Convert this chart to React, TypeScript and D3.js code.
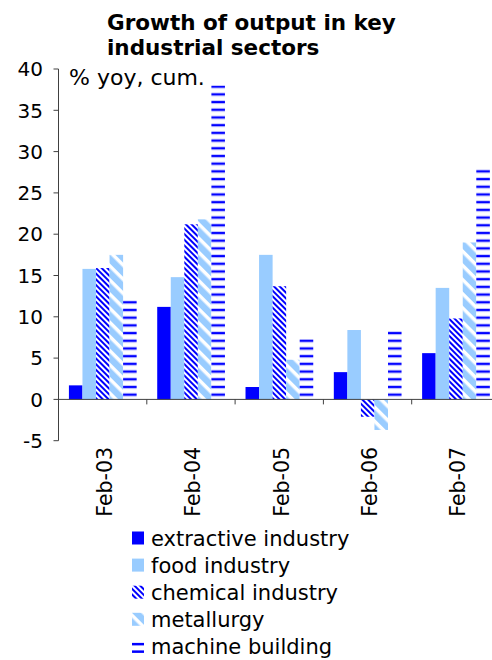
import React from "react";
import * as d3 from "d3";

const categories = ["Feb-03", "Feb-04", "Feb-05", "Feb-06", "Feb-07"];
const seriesNames = ["extractive industry", "food industry", "chemical industry", "metallurgy", "machine building"];
const extractive = [1.7, 11.2, 1.5, 3.3, 5.6];
const food = [15.8, 14.8, 17.5, 8.4, 13.5];
const chemical = [15.9, 21.2, 13.7, -2.1, 9.8];
const metallurgy = [17.5, 21.8, 4.8, -3.7, 19.0];
const machine = [12.0, 38.0, 7.3, 8.4, 27.9];
const yTicks = [-5, 0, 5, 10, 15, 20, 25, 30, 35, 40];

const seriesValues = [extractive, food, chemical, metallurgy, machine];
const fills = ["#0000ff", "#99ccff", "url(#pChem)", "url(#pMet)", "url(#pMach)"];

const W = 492;
const H = 660;
const FONT = "Verdana, 'DejaVu Sans', sans-serif";

export default function App() {
  const left = 58.5;
  const right = 500;
  const y = d3.scaleLinear().domain([-5, 40]).range([440.7, 69]);
  const x0 = d3.scaleBand<string>().domain(categories).range([left, right]).padding(0);
  const bw = x0.bandwidth();
  const x1 = d3
    .scaleBand<string>()
    .domain(seriesNames)
    .range([bw * 0.118, bw * 0.885])
    .padding(0);
  const y0 = y(0);

  const legendY0 = 538.5;
  const legendStep = 27.1;

  return (
    <svg width={W} height={H} style={{ position: "absolute", left: 0, top: 0 }} fontFamily={FONT}>
      <defs>
        <pattern id="pChem" patternUnits="userSpaceOnUse" width={4} height={4} patternTransform="rotate(-45)">
          <rect x={0} y={0} width={4} height={4} fill="#ffffff" />
          <rect x={0} y={0} width={2} height={4} fill="#0000ff" />
        </pattern>
        <pattern id="pMet" patternUnits="userSpaceOnUse" width={10} height={10} patternTransform="rotate(-45)">
          <rect x={0} y={0} width={10} height={10} fill="#ffffff" />
          <rect x={0} y={0} width={6.5} height={10} fill="#99ccff" />
        </pattern>
        <pattern id="pMach" patternUnits="userSpaceOnUse" width={8} height={7.7} y={0}>
          <rect x={0} y={0} width={8} height={7.7} fill="#ffffff" />
          <rect x={0} y={0} width={8} height={4} fill="#c8c8ff" />
          <rect x={0} y={1} width={8} height={2} fill="#0000ff" />
        </pattern>
      </defs>
      <rect x={0} y={0} width={W} height={H} fill="#ffffff" />

      {/* title */}
      <text x={107} y={30} fontSize={21.5} fontWeight="bold" fill="#000">
        Growth of output in key
      </text>
      <text x={107} y={55} fontSize={21.5} fontWeight="bold" fill="#000">
        industrial sectors
      </text>

      {/* bars */}
      {categories.map((c, ci) => (
        <g key={c} transform={`translate(${x0(c)},0)`}>
          {seriesNames.map((s, si) => {
            const v = seriesValues[si][ci];
            const yy = v >= 0 ? y(v) : y0;
            const h = Math.abs(y(v) - y0);
            return (
              <rect key={s} x={x1(s)} y={yy} width={x1.bandwidth()} height={h} fill={fills[si]} />
            );
          })}
        </g>
      ))}

      {/* y axis */}
      <line x1={left} x2={left} y1={y(40)} y2={y(-5)} stroke="#404040" strokeWidth={1} />
      {yTicks.map((t) => (
        <g key={t}>
          <line x1={left - 5} x2={left} y1={y(t)} y2={y(t)} stroke="#404040" strokeWidth={1} />
          <text x={43} y={y(t)} dy="0.36em" textAnchor="end" fontSize={20} fill="#000">
            {t}
          </text>
        </g>
      ))}

      {/* x axis */}
      <line x1={left} x2={W} y1={y0} y2={y0} stroke="#404040" strokeWidth={1} />
      {categories.map((c, i) =>
        i > 0 ? (
          <line key={c} x1={x0(c)} x2={x0(c)} y1={y0} y2={y0 + 5} stroke="#404040" strokeWidth={1} />
        ) : null
      )}
      {categories.map((c) => (
        <text
          key={c}
          transform={`translate(${(x0(c) as number) + bw / 2 + 2},447) rotate(-90)`}
          textAnchor="end"
          dy="0.36em"
          fontSize={20.5}
          fill="#000"
        >
          {c}
        </text>
      ))}

      <text x={69} y={85} fontSize={22} fill="#000">
        % yoy, cum.
      </text>

      {/* legend */}
      {seriesNames.map((s, i) => {
        const cy = legendY0 + i * legendStep;
        return (
          <g key={s}>
            {i === 4 ? (
              <g>
                <rect x={132} y={cy - 4} width={12} height={2.5} fill="#0000ff" />
                <rect x={132} y={cy + 3.5} width={12} height={2.5} fill="#0000ff" />
              </g>
            ) : (
              <rect x={132} y={cy - 7} width={12} height={13} fill={fills[i]} />
            )}
            <text x={151} y={cy} dy="0.34em" fontSize={21} fill="#000">
              {s}
            </text>
          </g>
        );
      })}
    </svg>
  );
}
